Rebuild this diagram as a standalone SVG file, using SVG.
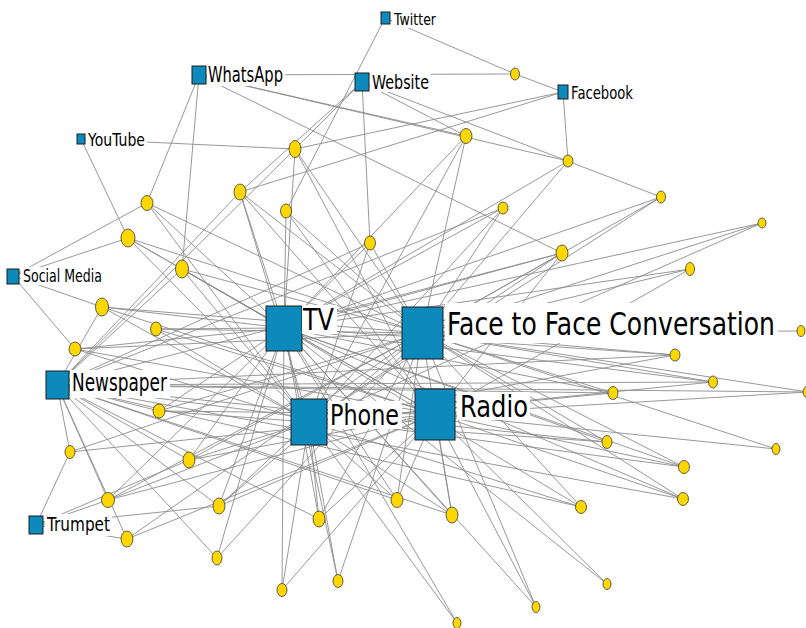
<svg xmlns="http://www.w3.org/2000/svg" width="806" height="628" viewBox="0 0 806 628">
<style>
.e line{stroke:#8c8c8c;stroke-width:0.9;}
.m{fill:#0b8abb;stroke:#1c1c1c;stroke-width:1;}
.bg{fill:#fff;}
.lb{font-family:"DejaVu Sans","Liberation Sans",sans-serif;fill:#000;}
.y{fill:#ffd700;stroke:#3a3a3a;stroke-width:0.8;}
</style>
<rect width="806" height="628" fill="#fff"/>
<g id="connectors" class="e">
<line x1="515" y1="74" x2="385" y2="18"/><line x1="515" y1="74" x2="199" y2="75"/><line x1="515" y1="74" x2="563" y2="92"/>
<line x1="295" y1="149" x2="81" y2="139"/><line x1="295" y1="149" x2="362" y2="82"/><line x1="295" y1="149" x2="563" y2="92"/><line x1="295" y1="149" x2="284" y2="328"/><line x1="295" y1="149" x2="422" y2="333"/><line x1="295" y1="149" x2="435" y2="414"/><line x1="295" y1="149" x2="57" y2="385"/>
<line x1="466" y1="136" x2="199" y2="75"/><line x1="466" y1="136" x2="362" y2="82"/><line x1="466" y1="136" x2="422" y2="333"/><line x1="466" y1="136" x2="309" y2="422"/><line x1="466" y1="136" x2="284" y2="328"/>
<line x1="568" y1="161" x2="563" y2="92"/><line x1="568" y1="161" x2="199" y2="75"/><line x1="568" y1="161" x2="284" y2="328"/><line x1="568" y1="161" x2="422" y2="333"/>
<line x1="240" y1="192" x2="563" y2="92"/><line x1="240" y1="192" x2="362" y2="82"/><line x1="240" y1="192" x2="284" y2="328"/><line x1="240" y1="192" x2="422" y2="333"/><line x1="240" y1="192" x2="309" y2="422"/><line x1="240" y1="192" x2="57" y2="385"/><line x1="240" y1="192" x2="435" y2="414"/>
<line x1="147" y1="203" x2="199" y2="75"/><line x1="147" y1="203" x2="13" y2="276"/><line x1="147" y1="203" x2="284" y2="328"/><line x1="147" y1="203" x2="422" y2="333"/><line x1="147" y1="203" x2="309" y2="422"/>
<line x1="286" y1="211" x2="385" y2="18"/><line x1="286" y1="211" x2="284" y2="328"/><line x1="286" y1="211" x2="422" y2="333"/><line x1="286" y1="211" x2="435" y2="414"/>
<line x1="503" y1="208" x2="284" y2="328"/><line x1="503" y1="208" x2="422" y2="333"/><line x1="503" y1="208" x2="309" y2="422"/><line x1="503" y1="208" x2="57" y2="385"/>
<line x1="661" y1="197" x2="362" y2="82"/><line x1="661" y1="197" x2="284" y2="328"/><line x1="661" y1="197" x2="422" y2="333"/><line x1="661" y1="197" x2="309" y2="422"/>
<line x1="762" y1="223" x2="284" y2="328"/><line x1="762" y1="223" x2="422" y2="333"/><line x1="762" y1="223" x2="309" y2="422"/>
<line x1="128" y1="238" x2="81" y2="139"/><line x1="128" y1="238" x2="13" y2="276"/><line x1="128" y1="238" x2="284" y2="328"/><line x1="128" y1="238" x2="422" y2="333"/><line x1="128" y1="238" x2="435" y2="414"/><line x1="128" y1="238" x2="309" y2="422"/>
<line x1="370" y1="243" x2="362" y2="82"/><line x1="370" y1="243" x2="284" y2="328"/><line x1="370" y1="243" x2="422" y2="333"/><line x1="370" y1="243" x2="309" y2="422"/><line x1="370" y1="243" x2="57" y2="385"/>
<line x1="562" y1="253" x2="199" y2="75"/><line x1="562" y1="253" x2="284" y2="328"/><line x1="562" y1="253" x2="422" y2="333"/><line x1="562" y1="253" x2="57" y2="385"/><line x1="562" y1="253" x2="309" y2="422"/><line x1="562" y1="253" x2="435" y2="414"/>
<line x1="182" y1="269" x2="199" y2="75"/><line x1="182" y1="269" x2="284" y2="328"/><line x1="182" y1="269" x2="422" y2="333"/><line x1="182" y1="269" x2="435" y2="414"/><line x1="182" y1="269" x2="57" y2="385"/><line x1="182" y1="269" x2="309" y2="422"/>
<line x1="690" y1="269" x2="284" y2="328"/><line x1="690" y1="269" x2="422" y2="333"/><line x1="690" y1="269" x2="435" y2="414"/>
<line x1="102" y1="307" x2="13" y2="276"/><line x1="102" y1="307" x2="284" y2="328"/><line x1="102" y1="307" x2="422" y2="333"/><line x1="102" y1="307" x2="435" y2="414"/><line x1="102" y1="307" x2="309" y2="422"/><line x1="102" y1="307" x2="57" y2="385"/>
<line x1="156" y1="329" x2="284" y2="328"/><line x1="156" y1="329" x2="422" y2="333"/><line x1="156" y1="329" x2="309" y2="422"/><line x1="156" y1="329" x2="435" y2="414"/>
<line x1="75" y1="349" x2="13" y2="276"/><line x1="75" y1="349" x2="284" y2="328"/><line x1="75" y1="349" x2="422" y2="333"/><line x1="75" y1="349" x2="435" y2="414"/><line x1="75" y1="349" x2="309" y2="422"/>
<line x1="801" y1="331" x2="422" y2="333"/>
<line x1="675" y1="355" x2="284" y2="328"/><line x1="675" y1="355" x2="422" y2="333"/><line x1="675" y1="355" x2="57" y2="385"/><line x1="675" y1="355" x2="309" y2="422"/>
<line x1="713" y1="382" x2="284" y2="328"/><line x1="713" y1="382" x2="422" y2="333"/><line x1="713" y1="382" x2="57" y2="385"/><line x1="713" y1="382" x2="309" y2="422"/>
<line x1="613" y1="393" x2="422" y2="333"/><line x1="613" y1="393" x2="284" y2="328"/><line x1="613" y1="393" x2="57" y2="385"/><line x1="613" y1="393" x2="309" y2="422"/>
<line x1="808" y1="392" x2="422" y2="333"/><line x1="808" y1="392" x2="57" y2="385"/><line x1="808" y1="392" x2="435" y2="414"/>
<line x1="159" y1="411" x2="57" y2="385"/><line x1="159" y1="411" x2="284" y2="328"/><line x1="159" y1="411" x2="422" y2="333"/><line x1="159" y1="411" x2="435" y2="414"/><line x1="159" y1="411" x2="309" y2="422"/>
<line x1="607" y1="442" x2="284" y2="328"/><line x1="607" y1="442" x2="422" y2="333"/><line x1="607" y1="442" x2="57" y2="385"/><line x1="607" y1="442" x2="309" y2="422"/>
<line x1="684" y1="467" x2="284" y2="328"/><line x1="684" y1="467" x2="422" y2="333"/><line x1="684" y1="467" x2="57" y2="385"/><line x1="684" y1="467" x2="435" y2="414"/>
<line x1="683" y1="499" x2="422" y2="333"/><line x1="683" y1="499" x2="57" y2="385"/><line x1="683" y1="499" x2="284" y2="328"/><line x1="683" y1="499" x2="435" y2="414"/>
<line x1="581" y1="507" x2="57" y2="385"/><line x1="581" y1="507" x2="284" y2="328"/><line x1="581" y1="507" x2="422" y2="333"/><line x1="581" y1="507" x2="309" y2="422"/>
<line x1="776" y1="449" x2="422" y2="333"/><line x1="776" y1="449" x2="435" y2="414"/>
<line x1="607" y1="584" x2="435" y2="414"/><line x1="607" y1="584" x2="284" y2="328"/>
<line x1="536" y1="607" x2="284" y2="328"/><line x1="536" y1="607" x2="422" y2="333"/><line x1="536" y1="607" x2="435" y2="414"/>
<line x1="70" y1="452" x2="57" y2="385"/><line x1="70" y1="452" x2="36" y2="525"/><line x1="70" y1="452" x2="422" y2="333"/><line x1="70" y1="452" x2="435" y2="414"/>
<line x1="189" y1="460" x2="36" y2="525"/><line x1="189" y1="460" x2="57" y2="385"/><line x1="189" y1="460" x2="284" y2="328"/><line x1="189" y1="460" x2="422" y2="333"/><line x1="189" y1="460" x2="309" y2="422"/><line x1="189" y1="460" x2="435" y2="414"/>
<line x1="108" y1="500" x2="36" y2="525"/><line x1="108" y1="500" x2="57" y2="385"/><line x1="108" y1="500" x2="284" y2="328"/><line x1="108" y1="500" x2="422" y2="333"/><line x1="108" y1="500" x2="309" y2="422"/><line x1="108" y1="500" x2="435" y2="414"/>
<line x1="219" y1="506" x2="36" y2="525"/><line x1="219" y1="506" x2="57" y2="385"/><line x1="219" y1="506" x2="284" y2="328"/><line x1="219" y1="506" x2="422" y2="333"/><line x1="219" y1="506" x2="309" y2="422"/><line x1="219" y1="506" x2="435" y2="414"/>
<line x1="127" y1="539" x2="36" y2="525"/><line x1="127" y1="539" x2="57" y2="385"/><line x1="127" y1="539" x2="422" y2="333"/><line x1="127" y1="539" x2="435" y2="414"/>
<line x1="217" y1="558" x2="57" y2="385"/><line x1="217" y1="558" x2="284" y2="328"/><line x1="217" y1="558" x2="422" y2="333"/>
<line x1="319" y1="519" x2="284" y2="328"/><line x1="319" y1="519" x2="309" y2="422"/><line x1="319" y1="519" x2="422" y2="333"/><line x1="319" y1="519" x2="57" y2="385"/><line x1="319" y1="519" x2="435" y2="414"/>
<line x1="397" y1="500" x2="284" y2="328"/><line x1="397" y1="500" x2="422" y2="333"/><line x1="397" y1="500" x2="309" y2="422"/><line x1="397" y1="500" x2="57" y2="385"/><line x1="397" y1="500" x2="435" y2="414"/>
<line x1="452" y1="515" x2="435" y2="414"/><line x1="452" y1="515" x2="422" y2="333"/><line x1="452" y1="515" x2="57" y2="385"/><line x1="452" y1="515" x2="284" y2="328"/><line x1="452" y1="515" x2="309" y2="422"/>
<line x1="282" y1="590" x2="284" y2="328"/><line x1="282" y1="590" x2="309" y2="422"/><line x1="282" y1="590" x2="435" y2="414"/>
<line x1="338" y1="581" x2="284" y2="328"/><line x1="338" y1="581" x2="309" y2="422"/><line x1="338" y1="581" x2="422" y2="333"/>
<line x1="457" y1="623" x2="284" y2="328"/><line x1="457" y1="623" x2="309" y2="422"/>
</g>
<g id="media">
<g id="twitter"><rect class="m" x="381" y="12" width="9" height="12"/><rect class="bg" x="392" y="10" width="46" height="18"/><text class="lb" transform="translate(394,25) scale(1,1.25)" font-size="13" textLength="42" lengthAdjust="spacingAndGlyphs">Twitter</text></g>
<g id="whatsapp"><rect class="m" x="192" y="66" width="14" height="18"/><rect class="bg" x="207" y="64" width="78" height="22"/><text class="lb" transform="translate(208,82) scale(1,1.25)" font-size="16.5" textLength="75" lengthAdjust="spacingAndGlyphs">WhatsApp</text></g>
<g id="website"><rect class="m" x="355" y="73" width="14" height="18"/><rect class="bg" x="370" y="72" width="61" height="20"/><text class="lb" transform="translate(372,88.5) scale(1,1.25)" font-size="15.7" textLength="57" lengthAdjust="spacingAndGlyphs">Website</text></g>
<g id="facebook"><rect class="m" x="558" y="85" width="10" height="14"/><rect class="bg" x="569" y="84" width="66" height="17"/><text class="lb" transform="translate(571,99) scale(1,1.25)" font-size="14" textLength="62" lengthAdjust="spacingAndGlyphs">Facebook</text></g>
<g id="youtube"><rect class="m" x="77" y="134" width="8" height="10"/><rect class="bg" x="86" y="131" width="61" height="17"/><text class="lb" transform="translate(88,146) scale(1,1.25)" font-size="13.6" textLength="57" lengthAdjust="spacingAndGlyphs">YouTube</text></g>
<g id="socialmedia"><rect class="m" x="7" y="269" width="12" height="15"/><rect class="bg" x="21" y="267" width="83" height="18"/><text class="lb" transform="translate(23,282) scale(1,1.25)" font-size="13.5" textLength="79" lengthAdjust="spacingAndGlyphs">Social Media</text></g>
<g id="tv"><rect class="m" x="266" y="306" width="36" height="45"/><rect class="bg" x="302" y="305" width="35" height="29"/><text class="lb" transform="translate(303,330) scale(1,1.25)" font-size="24" textLength="31" lengthAdjust="spacingAndGlyphs">TV</text></g>
<g id="facetoface"><rect class="m" x="402" y="307" width="41" height="52"/><rect class="bg" x="445" y="303" width="333" height="40"/><text class="lb" transform="translate(447,335) scale(1,1.25)" font-size="25" textLength="328" lengthAdjust="spacingAndGlyphs">Face to Face Conversation</text></g>
<g id="newspaper"><rect class="m" x="46" y="371" width="23" height="28"/><rect class="bg" x="70" y="370" width="100" height="28"/><text class="lb" transform="translate(72,391) scale(1,1.25)" font-size="19.8" textLength="95" lengthAdjust="spacingAndGlyphs">Newspaper</text></g>
<g id="phone"><rect class="m" x="291" y="399" width="36" height="46"/><rect class="bg" x="328" y="401" width="74" height="28"/><text class="lb" transform="translate(330,425) scale(1,1.25)" font-size="23" textLength="69" lengthAdjust="spacingAndGlyphs">Phone</text></g>
<g id="radio"><rect class="m" x="415" y="389" width="40" height="51"/><rect class="bg" x="457" y="392" width="73" height="28"/><text class="lb" transform="translate(460,417) scale(1,1.25)" font-size="24" textLength="68" lengthAdjust="spacingAndGlyphs">Radio</text></g>
<g id="trumpet"><rect class="m" x="29" y="516" width="14" height="18"/><rect class="bg" x="45" y="514" width="67" height="22"/><text class="lb" transform="translate(47,531) scale(1,1.25)" font-size="15.4" textLength="63" lengthAdjust="spacingAndGlyphs">Trumpet</text></g>
</g>
<g id="respondents">
<g id="r1"><ellipse class="y" cx="515" cy="74" rx="4.5" ry="6"/></g>
<g id="r2"><ellipse class="y" cx="295" cy="149" rx="6" ry="8.5"/></g>
<g id="r3"><ellipse class="y" cx="466" cy="136" rx="6" ry="7.5"/></g>
<g id="r4"><ellipse class="y" cx="568" cy="161" rx="5" ry="6"/></g>
<g id="r5"><ellipse class="y" cx="240" cy="192" rx="6" ry="8"/></g>
<g id="r6"><ellipse class="y" cx="147" cy="203" rx="6" ry="7.5"/></g>
<g id="r7"><ellipse class="y" cx="286" cy="211" rx="5.5" ry="7"/></g>
<g id="r8"><ellipse class="y" cx="503" cy="208" rx="5" ry="6"/></g>
<g id="r9"><ellipse class="y" cx="661" cy="197" rx="4.5" ry="6"/></g>
<g id="r10"><ellipse class="y" cx="762" cy="223" rx="4" ry="5"/></g>
<g id="r11"><ellipse class="y" cx="128" cy="238" rx="7" ry="9"/></g>
<g id="r12"><ellipse class="y" cx="370" cy="243" rx="5.5" ry="7"/></g>
<g id="r13"><ellipse class="y" cx="562" cy="253" rx="6" ry="8"/></g>
<g id="r14"><ellipse class="y" cx="182" cy="269" rx="6.5" ry="9"/></g>
<g id="r15"><ellipse class="y" cx="690" cy="269" rx="4.5" ry="6.5"/></g>
<g id="r16"><ellipse class="y" cx="102" cy="307" rx="6.5" ry="9"/></g>
<g id="r17"><ellipse class="y" cx="156" cy="329" rx="5.5" ry="7"/></g>
<g id="r18"><ellipse class="y" cx="75" cy="349" rx="6" ry="7"/></g>
<g id="r19"><ellipse class="y" cx="801" cy="331" rx="4" ry="5.5"/></g>
<g id="r20"><ellipse class="y" cx="675" cy="355" rx="5" ry="6"/></g>
<g id="r21"><ellipse class="y" cx="713" cy="382" rx="4.5" ry="6"/></g>
<g id="r22"><ellipse class="y" cx="613" cy="393" rx="5" ry="6.5"/></g>
<g id="r23"><ellipse class="y" cx="808" cy="392" rx="5" ry="6"/></g>
<g id="r24"><ellipse class="y" cx="159" cy="411" rx="6" ry="7"/></g>
<g id="r25"><ellipse class="y" cx="607" cy="442" rx="5" ry="6.5"/></g>
<g id="r26"><ellipse class="y" cx="684" cy="467" rx="5.5" ry="6.5"/></g>
<g id="r27"><ellipse class="y" cx="683" cy="499" rx="5.5" ry="6.5"/></g>
<g id="r28"><ellipse class="y" cx="581" cy="507" rx="5.5" ry="6.5"/></g>
<g id="r29"><ellipse class="y" cx="776" cy="449" rx="4" ry="5.5"/></g>
<g id="r30"><ellipse class="y" cx="607" cy="584" rx="4" ry="5.5"/></g>
<g id="r31"><ellipse class="y" cx="536" cy="607" rx="4" ry="5.5"/></g>
<g id="r32"><ellipse class="y" cx="70" cy="452" rx="5" ry="6.5"/></g>
<g id="r33"><ellipse class="y" cx="189" cy="460" rx="6" ry="8"/></g>
<g id="r34"><ellipse class="y" cx="108" cy="500" rx="6.5" ry="7.5"/></g>
<g id="r35"><ellipse class="y" cx="219" cy="506" rx="6" ry="8"/></g>
<g id="r36"><ellipse class="y" cx="127" cy="539" rx="6" ry="8"/></g>
<g id="r37"><ellipse class="y" cx="217" cy="558" rx="5" ry="7"/></g>
<g id="r38"><ellipse class="y" cx="319" cy="519" rx="6" ry="8"/></g>
<g id="r39"><ellipse class="y" cx="397" cy="500" rx="6" ry="7.5"/></g>
<g id="r40"><ellipse class="y" cx="452" cy="515" rx="6" ry="8"/></g>
<g id="r41"><ellipse class="y" cx="282" cy="590" rx="5" ry="6.5"/></g>
<g id="r42"><ellipse class="y" cx="338" cy="581" rx="5" ry="6.5"/></g>
<g id="r43"><ellipse class="y" cx="457" cy="623" rx="4" ry="5.5"/></g>
</g>
</svg>
